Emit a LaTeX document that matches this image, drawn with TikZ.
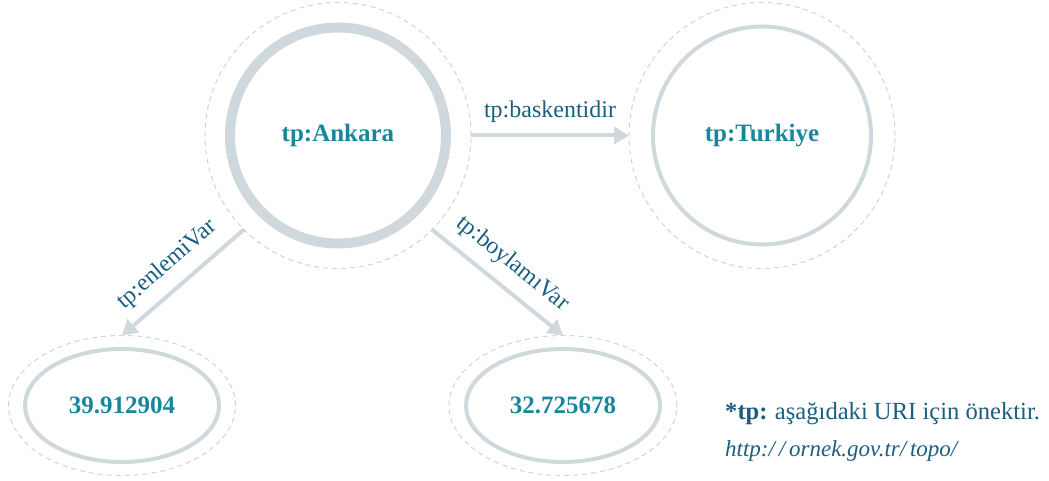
\documentclass[tikz,border=0pt]{standalone}
\usepackage{fontspec}
\setmainfont{Liberation Serif}
\usetikzlibrary{arrows.meta,shapes.geometric}
\definecolor{ringgray}{HTML}{CFD8DD}
\definecolor{dashgray}{HTML}{CCD5DA}
\definecolor{nodeteal}{HTML}{17889B}
\definecolor{labelblue}{HTML}{1B5F7F}
\tikzset{
  halo/.style={draw=dashgray, line width=1pt, dash pattern=on 5pt off 4pt, inner sep=0pt, outer sep=0pt},
  ringc/.style={circle, draw=ringgray, inner sep=0pt, outer sep=0pt},
  ringe/.style={ellipse, draw=ringgray, line width=4pt, inner sep=0pt, outer sep=0pt,
                minimum width=194pt, minimum height=113pt},
  nodetext/.style={text=nodeteal, font=\fontsize{25}{30}\selectfont\bfseries},
  link/.style={draw=ringgray, line width=4pt, -{Triangle[length=15pt,width=17pt]}},
  linklabel/.style={text=labelblue, font=\fontsize{24}{28}\selectfont, midway, sloped, above=9pt, inner sep=2pt},
  note/.style={text=labelblue, anchor=base west, inner sep=0pt}
}
\begin{document}
\begin{tikzpicture}[x=1pt,y=-1pt]
\useasboundingbox (0,0) rectangle (1049,481);

% Ankara
\node[halo, circle, minimum size=266pt] (ankO) at (338,135.5) {};
\node[ringc, line width=10pt, minimum size=216pt, nodetext] (ank) at (338,135.5) {tp:Ankara};

% Turkiye
\node[halo, circle, minimum size=266pt] (turO) at (762,135.5) {};
\node[ringc, line width=4pt, minimum size=218pt, nodetext] (tur) at (762,135.5) {tp:Turkiye};

% literal values
\node[halo, ellipse, minimum width=227pt, minimum height=140pt] (latO) at (122,405.5) {};
\node[ringe, nodetext] (lat) at (122,405.5) {39.912904};
\node[halo, ellipse, minimum width=228pt, minimum height=140pt] (lonO) at (563,405.5) {};
\node[ringe, nodetext] (lon) at (563,405.5) {32.725678};

% properties
\draw[link] (ankO.east) -- node[linklabel] (pb) {tp:baskentidir} (turO.west);
\draw[link] (ankO.south west) -- node[linklabel] (pe) {tp:enlemiVar} (latO.north);
\draw[link] (ankO.south east) -- node[linklabel] (pl) {tp:boylamıVar} (lonO.north);

% prefix note
\node[note, font=\fontsize{24.6}{28}\selectfont] (n1) at (725,419) {\textbf{*tp:}\hspace{0.3em}aşağıdaki URI için önektir.};
\node[note, font=\fontsize{23}{28}\selectfont] (n2) at (725,456) {\textit{http:/\,/\,ornek.gov.tr/\,topo/}};
\end{tikzpicture}
\end{document}
